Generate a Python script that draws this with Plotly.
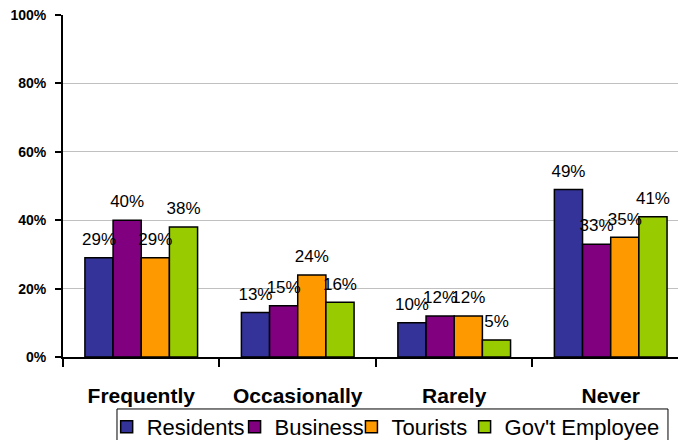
import plotly.graph_objects as go

categories = ["Frequently", "Occasionally", "Rarely", "Never"]
series_names = ["Residents", "Business", "Tourists", "Gov't Employee"]
residents = [0.29, 0.13, 0.10, 0.49]
business = [0.40, 0.15, 0.12, 0.33]
tourists = [0.29, 0.24, 0.12, 0.35]
govt = [0.38, 0.16, 0.05, 0.41]
colors = ["#333399", "#800080", "#FF9900", "#99CC00"]
y_ticks = [0, 0.2, 0.4, 0.6, 0.8, 1.0]
y_tick_labels = ["0%", "20%", "40%", "60%", "80%", "100%"]

FONT = "Arial, Liberation Sans, sans-serif"
all_series = [residents, business, tourists, govt]
legend_ids = ["legend", "legend2", "legend3", "legend4"]
legend_x = [0.071, 0.279, 0.469, 0.653]

fig = go.Figure()
for name, vals, col, lg in zip(series_names, all_series, colors, legend_ids):
    fig.add_trace(go.Bar(
        x=categories, y=vals, name=name, legend=lg,
        marker=dict(color=col, line=dict(color="black", width=1.5)),
    ))
# value labels, grouped the same way as the bars
for name, vals in zip(series_names, all_series):
    fig.add_trace(go.Scatter(
        x=categories, y=vals, mode="markers+text", showlegend=False,
        text=[f"{round(v*100)}%" for v in vals],
        textposition="top center",
        marker=dict(size=12, opacity=0),
        textfont=dict(family=FONT, size=17, color="black"),
        cliponaxis=False, hoverinfo="skip",
    ))

legend_common = dict(
    orientation="h", xanchor="left", y=-0.143, yanchor="top",
    borderwidth=0, bgcolor="rgba(0,0,0,0)",
    font=dict(family=FONT, size=22, color="black"),
)
layout_legends = {lg: dict(x=lx, **legend_common) for lg, lx in zip(legend_ids, legend_x)}

fig.update_layout(
    width=678, height=440,
    margin=dict(l=63, r=0, t=15, b=83, autoexpand=False),
    paper_bgcolor="white", plot_bgcolor="white",
    barmode="group", bargap=0.28, bargroupgap=0,
    scattermode="group", scattergap=0.28,
    font=dict(family=FONT, color="black"),
    showlegend=True,
    xaxis=dict(
        type="category",
        range=[-0.5, 3.43],
        showline=True, linecolor="black", linewidth=2,
        ticks="outside", tickson="boundaries", ticklen=8, tickwidth=2, tickcolor="black",
        tickfont=dict(family=FONT, size=21, color="black", weight="bold"),
        ticklabelstandoff=19,
        showgrid=False,
    ),
    yaxis=dict(
        range=[0, 1.0],
        tickvals=y_ticks, ticktext=y_tick_labels,
        showline=True, linecolor="black", linewidth=2,
        ticks="outside", ticklen=6, tickwidth=2, tickcolor="black",
        tickfont=dict(family=FONT, size=14, color="black", weight="bold"),
        ticklabelstandoff=6,
        showgrid=True, gridcolor="#C0C0C0", gridwidth=1,
        zeroline=False,
    ),
    shapes=[dict(
        type="rect", xref="paper", yref="paper",
        x0=0.0878, x1=0.9837, y0=-0.152, y1=-0.40,
        line=dict(color="black", width=1), fillcolor="rgba(0,0,0,0)", layer="below",
    )],
    **layout_legends,
)

fig.write_html("out.html")
